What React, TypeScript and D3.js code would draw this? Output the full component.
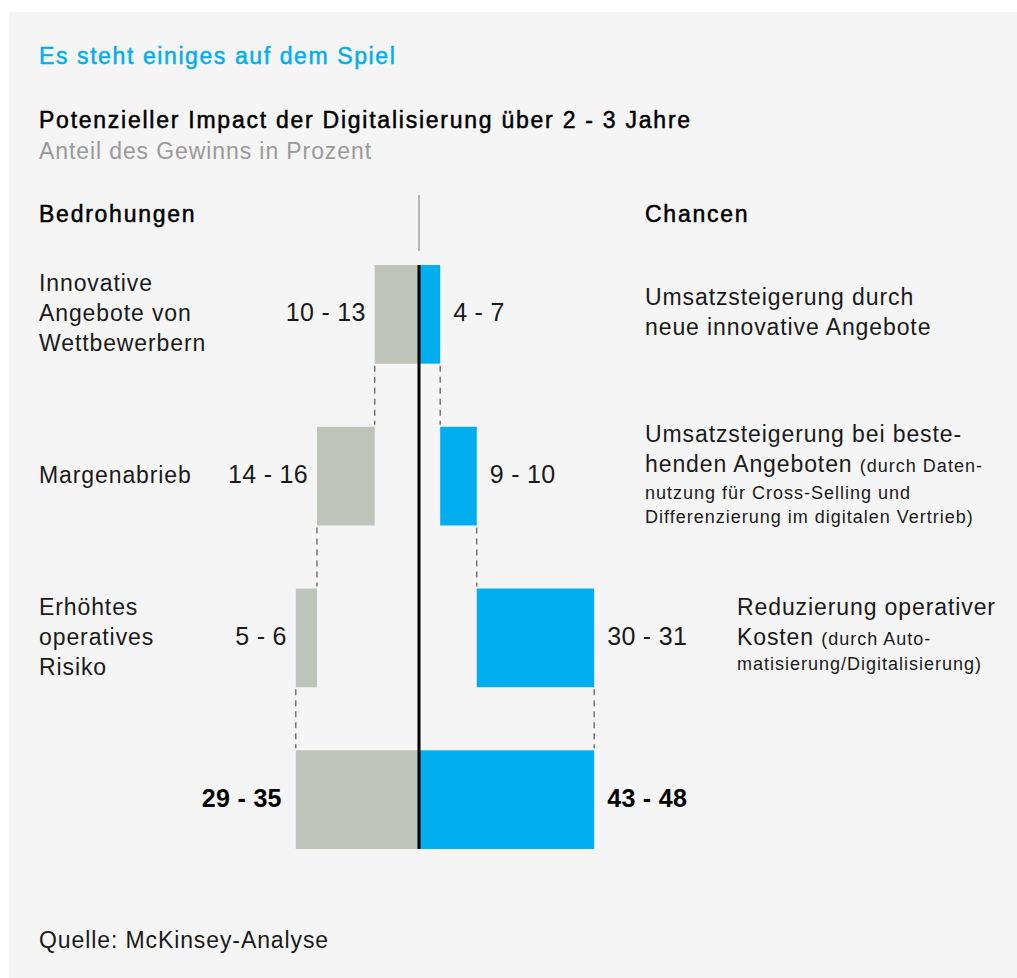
import React from 'react';
import * as d3 from 'd3';

// chart data
const rowKeys = ['r1', 'r2', 'r3', 'total'];
const threatLabels = [
  ['Innovative', 'Angebote von', 'Wettbewerbern'],
  ['Margenabrieb'],
  ['Erhöhtes', 'operatives', 'Risiko'],
];
const threatRanges = [
  [10, 13],
  [14, 16],
  [5, 6],
];
const threatTotal = [29, 35];
const chanceRanges = [
  [4, 7],
  [9, 10],
  [30, 31],
];
const chanceTotal = [43, 48];

const W = 1017;
const H = 978;
const FONT = '"Liberation Sans", Arial, Helvetica, sans-serif';
const BLUE = '#00aeef';
const GREY = '#bec4b9';
const BG = '#f5f5f5';

const mid = (r) => (r[0] + r[1]) / 2;
const fmt = (r) => `${r[0]} - ${r[1]}`;

export default function App() {
  const cx = 419;
  const unit = 3.85;
  const x = d3.scaleLinear().domain([0, 1]).range([0, unit]);
  const y = d3.scaleBand().domain(rowKeys).range([265, 849]).paddingInner(0.39);
  const bw = y.bandwidth();

  // waterfall steps
  let acc = 0;
  const threatBars = threatRanges.map((r, i) => {
    const b = { key: rowKeys[i], start: acc, end: acc + mid(r), range: r };
    acc += mid(r);
    return b;
  });
  acc = 0;
  const chanceBars = chanceRanges.map((r, i) => {
    const b = { key: rowKeys[i], start: acc, end: acc + mid(r), range: r };
    acc += mid(r);
    return b;
  });
  const tTot = mid(threatTotal);
  const cTot = mid(chanceTotal);

  const body = { fontFamily: FONT, fill: '#1a1a1a', fontSize: 23, letterSpacing: 0.9 };
  const medium = { fontFamily: FONT, fill: '#000', fontSize: 23, letterSpacing: 1.75, stroke: '#000', strokeWidth: 0.5 };
  const small = { fontSize: 18, letterSpacing: 1.0 };
  const num = { fontFamily: FONT, fill: '#1a1a1a', fontSize: 25, letterSpacing: 0.3 };
  const yMid = (k) => y(k) + bw / 2 + 7;

  // dashed connectors
  const connectors = [];
  threatBars.forEach((b, i) => {
    connectors.push({ x: cx - x(b.end), y1: y(b.key) + bw, y2: y(rowKeys[i + 1]) });
  });
  chanceBars.forEach((b, i) => {
    connectors.push({ x: cx + x(b.end), y1: y(b.key) + bw, y2: y(rowKeys[i + 1]) });
  });

  return (
    <div style={{ position: 'absolute', left: 0, top: 0, width: W, height: H, background: '#fff' }}>
      <svg width={W} height={H} style={{ display: 'block' }}>
        <rect x={9} y={12} width={W - 9} height={H - 12} fill={BG} />

        <text x={39} y={64} style={{ ...medium, fill: BLUE, stroke: BLUE, letterSpacing: 1.6 }}>
          Es steht einiges auf dem Spiel
        </text>
        <text x={39} y={128} style={medium}>
          Potenzieller Impact der Digitalisierung über 2 - 3 Jahre
        </text>
        <text x={39} y={159} style={{ ...body, fill: '#9a9a9a' }}>
          Anteil des Gewinns in Prozent
        </text>

        <text x={39} y={222} style={medium}>
          Bedrohungen
        </text>
        <text x={645} y={222} style={medium}>
          Chancen
        </text>
        <line x1={cx} x2={cx} y1={195} y2={251} stroke="#777" strokeWidth={1} />

        {/* left labels */}
        {threatLabels.map((lines, i) => {
          const k = rowKeys[i];
          const y0 = yMid(k) - ((lines.length - 1) * 30) / 2;
          return (
            <text key={k} x={39} y={y0} style={body}>
              {lines.map((l, j) => (
                <tspan key={j} x={39} dy={j === 0 ? 0 : 30}>
                  {l}
                </tspan>
              ))}
            </text>
          );
        })}

        {/* threat bars */}
        {threatBars.map((b) => (
          <g key={'t' + b.key}>
            <rect x={cx - x(b.end)} y={y(b.key)} width={x(b.end) - x(b.start)} height={bw} fill={GREY} />
            <text x={cx - x(b.end) - 9} y={yMid(b.key)} textAnchor="end" style={num}>
              {fmt(b.range)}
            </text>
          </g>
        ))}
        <rect x={cx - x(tTot)} y={y('total')} width={x(tTot)} height={bw} fill={GREY} />
        <text x={cx - x(tTot) - 14} y={yMid('total')} textAnchor="end" style={{ ...num, fontWeight: 700, fill: '#000' }}>
          {fmt(threatTotal)}
        </text>

        {/* chance bars */}
        {chanceBars.map((b) => (
          <g key={'c' + b.key}>
            <rect x={cx + x(b.start)} y={y(b.key)} width={x(b.end) - x(b.start)} height={bw} fill={BLUE} />
            <text x={cx + x(b.end) + 13} y={yMid(b.key)} style={num}>
              {fmt(b.range)}
            </text>
          </g>
        ))}
        <rect x={cx} y={y('total')} width={x(cTot)} height={bw} fill={BLUE} />
        <text x={cx + x(cTot) + 13} y={yMid('total')} style={{ ...num, fontWeight: 700, fill: '#000' }}>
          {fmt(chanceTotal)}
        </text>

        {connectors.map((c, i) => (
          <line key={i} x1={c.x} x2={c.x} y1={c.y1 + 2} y2={c.y2 - 2} stroke="#555" strokeWidth={1.2} strokeDasharray="6,5" />
        ))}

        <line x1={cx} x2={cx} y1={y('r1')} y2={y('total') + bw} stroke="#000" strokeWidth={3} />

        {/* right descriptions */}
        <text x={645} y={305} style={body}>
          <tspan x={645}>Umsatzsteigerung durch</tspan>
          <tspan x={645} dy={30}>neue innovative Angebote</tspan>
        </text>
        <text x={645} y={442} style={body}>
          <tspan x={645}>Umsatzsteigerung bei beste-</tspan>
          <tspan x={645} dy={30}>henden Angeboten </tspan>
          <tspan style={small}>(durch Daten-</tspan>
          <tspan x={645} dy={27} style={small}>nutzung für Cross-Selling und</tspan>
          <tspan x={645} dy={24} style={small}>Differenzierung im digitalen Vertrieb)</tspan>
        </text>
        <text x={737} y={615} style={body}>
          <tspan x={737}>Reduzierung operativer</tspan>
          <tspan x={737} dy={30}>Kosten </tspan>
          <tspan style={small}>(durch Auto-</tspan>
          <tspan x={737} dy={25} style={small}>matisierung/Digitalisierung)</tspan>
        </text>

        <text x={39} y={948} style={body}>
          Quelle: McKinsey-Analyse
        </text>
      </svg>
    </div>
  );
}
